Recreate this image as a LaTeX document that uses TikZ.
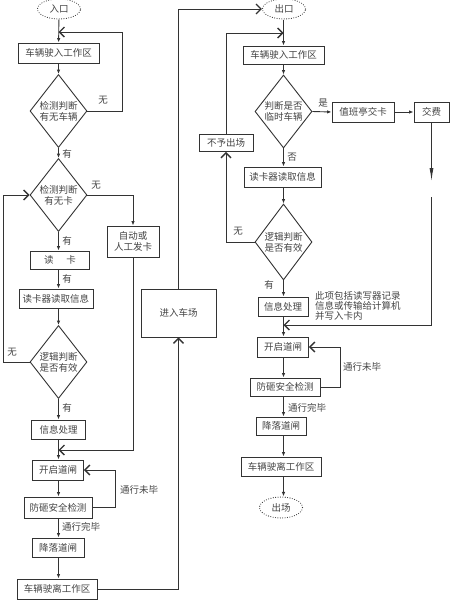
\documentclass[tikz,border=0pt]{standalone}
\usepackage{fontspec}
\newfontfamily\cjk{Noto Sans CJK SC}
\usetikzlibrary{shapes.geometric,arrows.meta,calc}
\definecolor{lc}{HTML}{333333}
\definecolor{tc}{HTML}{444444}
\begin{document}
\begin{tikzpicture}[x=1pt,y=-1pt,
  font=\cjk\fontsize{9.5}{11}\selectfont,
  box/.style={draw=lc, line width=0.9pt, inner sep=0pt, text=tc, align=center, minimum height=20pt},
  dia/.style={diamond, draw=lc, line width=0.9pt, inner sep=0pt, aspect=0.78, minimum width=57pt, minimum height=73pt, text=tc, align=center},
  ell/.style={ellipse, draw=lc, line width=1.1pt, dash pattern=on 0pt off 2.4pt, line cap=round, minimum width=43pt, minimum height=20pt, inner sep=0pt, text=tc},
  arr/.style={draw=lc, line width=0.9pt, -{Latex[length=4.5pt,width=3.5pt]}},
  mrg/.style={draw=lc, line width=0.9pt, -{Straight Barb[length=5pt,width=10pt,line width=1.3pt]}},
  lng/.style={draw=lc, line width=0.9pt, -{Latex[length=13pt,width=4pt]}},
  ln/.style={draw=lc, line width=0.9pt},
  lbl/.style={text=tc, inner sep=0pt}
]
\fill[white] (0,0) rectangle (450,600);
\useasboundingbox (0,0) rectangle (450,600);

% ---------- left column ----------
\node[ell] (in) at (59,9) {入口};
\node[box, minimum width=81pt] (b1) at (58.5,53) {车辆驶入工作区};
\node[dia] (d1) at (58.5,111) {检测判断\\有无车辆};
\node[dia] (d2) at (58.5,195) {检测判断\\有无卡};
\node[box, minimum width=59pt, minimum height=18pt] (rc) at (60,260) {读\hspace{13pt}卡};
\node[box, minimum width=74pt, minimum height=19pt] (rd1) at (56,298.5) {读卡器读取信息};
\node[dia] (d3) at (58.5,362) {逻辑判断\\是否有效};
\node[box, minimum width=54pt, minimum height=19pt] (ip1) at (58.5,429.5) {信息处理};
\node[box, minimum width=51pt] (og1) at (58,470) {开启道闸};
\node[box, minimum width=68pt, minimum height=21pt] (fz1) at (58,507.5) {防砸安全检测};
\node[box, minimum width=52pt, minimum height=19pt] (jl1) at (58,547.5) {降落道闸};
\node[box, minimum width=80pt] (lv1) at (57,589) {车辆驶离工作区};
\node[box, minimum width=52pt, minimum height=31pt, font=\cjk\fontsize{9.5}{10.5}\selectfont] (auto) at (133,241.5) {自动或\\人工发卡};
\node[box, minimum width=75pt, minimum height=48pt] (enter) at (178.5,313) {进入车场};

\coordinate (m1) at (58.5,32);
\coordinate (m2) at (58.5,450);

\draw[arr] (in) -- (b1);
\draw[arr] (b1) -- (d1);
\draw[mrg] (d1.east) -- ++(35,0) |- (m1);
\node[lbl] (t1) at (103,100) {无};
\draw[arr] (d1) -- (d2);
\node[lbl] (t2) at (67,154) {有};
\draw[arr] (d2.east) -| (auto.north);
\node[lbl] (t3) at (96,185) {无};
\draw[arr] (d2) -- (d2 |- rc.north);
\node[lbl] (t4) at (67,241) {有};
\draw[arr] (rc.south -| d2) -- (d2 |- rd1.north);
\node[lbl] (t5) at (67,279) {有};
\draw[arr] (rd1.south -| d3) -- (d3);
\draw[mrg] (d3.west) -- (3,362) |- (d2.west);
\node[lbl] (t6) at (12,352) {无};
\draw[arr] (d3) -- (ip1);
\node[lbl] (t7) at (67,408) {有};
\draw[arr] (ip1) -- (ip1 |- og1.north);
\draw[mrg] (auto.south) |- (m2);
\draw[arr] (og1.south -| ip1) -- (ip1 |- fz1.north);
\draw[mrg] (fz1.east) -- (115,507.5) |- (og1.east);
\node[lbl, anchor=west] (t8) at (120,490) {通行未毕};
\draw[arr] (fz1.south -| ip1) -- (ip1 |- jl1.north);
\node[lbl, anchor=west] (t9) at (62,527) {通行完毕};
\draw[arr] (jl1.south -| ip1) -- (ip1 |- lv1.north);
\draw[mrg] (lv1.east) -| (enter.south);

% ---------- right column ----------
\node[ell] (out) at (284,9) {出口};
\node[box, minimum width=81pt, minimum height=18pt] (b2) at (283.5,55) {车辆驶入工作区};
\node[dia] (d4) at (283.5,111.5) {判断是否\\临时车辆};
\node[box, minimum width=62pt] (zb) at (363,112) {值班亭交卡};
\node[box, minimum width=35pt] (jf) at (431.5,112) {交费};
\node[box, minimum width=54pt, minimum height=17pt] (no) at (226,143) {不予出场};
\node[box, minimum width=77pt] (rd2) at (282.5,177) {读卡器读取信息};
\node[dia, minimum height=76pt] (d5) at (283.5,242) {逻辑判断\\是否有效};
\node[box, minimum width=50pt, minimum height=19pt] (ip2) at (283,306.5) {信息处理};
\node[lbl, anchor=north west, align=left, font=\cjk\fontsize{9.5}{10}\selectfont] (note) at (315,291.5) {此项包括读写器记录\\信息或传输给计算机\\并写入卡内};
\node[box, minimum width=51pt] (og2) at (283,347) {开启道闸};
\node[box, minimum width=70pt, minimum height=18pt] (fz2) at (285,387) {防砸安全检测};
\node[box, minimum width=50pt, minimum height=18pt] (jl2) at (281,426) {降落道闸};
\node[box, minimum width=80pt, minimum height=19pt] (lv2) at (281,466.5) {车辆驶离工作区};
\node[ell, minimum height=21pt] (exit) at (281,507.5) {出场};

\coordinate (m3) at (283.5,33);
\coordinate (m4) at (283.5,325);
\coordinate (g1) at (431.5,181);
\coordinate (g2) at (431.5,197);

\draw[mrg] (enter.north) |- (out.west);
\draw[arr] (out.south -| b2) -- (b2.north);
\draw[mrg] (no.north) |- (m3);
\draw[arr] (b2) -- (d4);
\draw[arr] (d4.east) -- (zb.west);
\node[lbl] (t10) at (323,103) {是};
\draw[arr] (zb) -- (jf);
\draw[lng] (jf.south) -- (g1);
\draw[mrg] (g2) |- (m4);
\draw[arr] (d4) -- (d4 |- rd2.north);
\node[lbl] (t11) at (292,157) {否};
\draw[arr] (rd2.south -| d5) -- (d5);
\draw[mrg] (d5.west) -| (no.south);
\node[lbl] (t12) at (238,231) {无};
\draw[arr] (d5) -- (d5 |- ip2.north);
\node[lbl] (t13) at (269,285) {有};
\draw[arr] (ip2.south -| d5) -- (d5 |- og2.north);
\draw[arr] (og2.south -| d5) -- (d5 |- fz2.north);
\draw[mrg] (fz2.east) -- (340,387) |- (og2.east);
\node[lbl, anchor=west] (t14) at (343,367) {通行未毕};
\draw[arr] (fz2.south -| d5) -- (d5 |- jl2.north);
\node[lbl, anchor=west] (t15) at (288,408) {通行完毕};
\draw[arr] (jl2.south -| d5) -- (d5 |- lv2.north);
\draw[arr] (lv2.south -| d5) -- (d5 |- exit.north);
\end{tikzpicture}
\end{document}
